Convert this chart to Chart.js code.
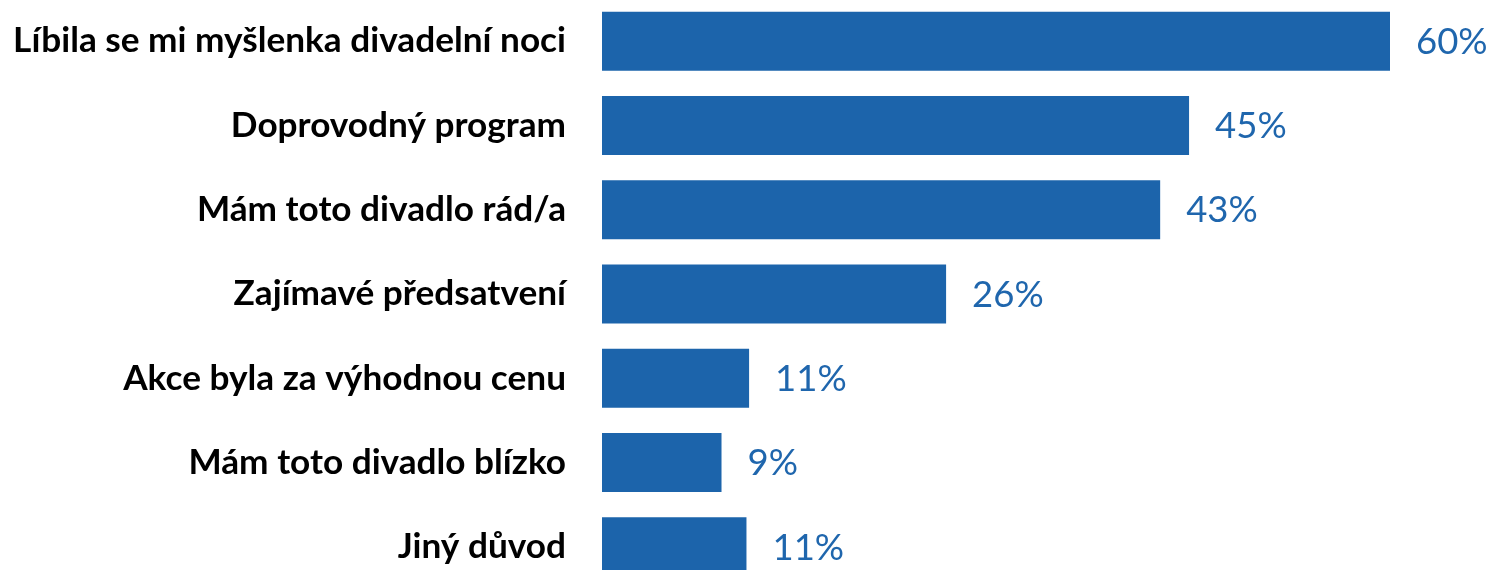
<!DOCTYPE html>
<html>
<head>
<meta charset="utf-8">
<script src="https://cdn.jsdelivr.net/npm/chart.js@4"></script>
<style>
    html, body { margin: 0; padding: 0; background: #fff; overflow: hidden; }
    #wrap { position: absolute; left: 0; top: -1px; width: 1492px; height: 590px; }
</style>
</head>
<body>
<div id="wrap"><canvas id="reasonsChart"></canvas></div>
<script>
// Categories (top to bottom)
const categories = [
    "Líbila se mi myšlenka divadelní noci",
    "Doprovodný program",
    "Mám toto divadlo rád/a",
    "Zajímavé předsatvení",
    "Akce byla za výhodnou cenu",
    "Mám toto divadlo blízko",
    "Jiný důvod"
];

// Share of respondents, % (bar lengths)
const shares = [60, 44.7, 42.5, 26.2, 11.2, 9.1, 11.0];

// Value labels shown next to the bars
const shareLabels = ["60%", "45%", "43%", "26%", "11%", "9%", "11%"];

const barBlue = "#1c64ab";

// Draw the percentage next to each bar
const valueLabels = {
    id: "valueLabels",
    afterDatasetsDraw(chart) {
        const ctx = chart.ctx;
        const meta = chart.getDatasetMeta(0);
        ctx.save();
        ctx.font = "36.5px Lato";
        ctx.fillStyle = "#1f66ad";
        ctx.textAlign = "left";
        ctx.textBaseline = "middle";
        meta.data.forEach((bar, i) => {
            ctx.fillText(shareLabels[i], bar.x + 26, bar.y + 1);
        });
        ctx.restore();
    }
};

new Chart(document.getElementById("reasonsChart"), {
    type: "bar",
    data: {
        labels: categories,
        datasets: [{
            data: shares,
            backgroundColor: barBlue,
            borderWidth: 0,
            barPercentage: 0.7,
            categoryPercentage: 1
        }]
    },
    options: {
        indexAxis: "y",
        responsive: true,
        maintainAspectRatio: false,
        animation: false,
        layout: { padding: { left: 0, right: 102, top: 0, bottom: 0 } },
        plugins: {
            legend: { display: false },
            tooltip: { enabled: false }
        },
        scales: {
            x: {
                display: false,
                min: 0,
                max: 60
            },
            y: {
                grid: { display: false, drawTicks: false },
                border: { display: false },
                ticks: {
                    color: "#000",
                    padding: 36,
                    font: { family: "Lato", size: 35.2, weight: "bold" }
                },
                afterFit(scale) {
                    scale.width = 602;
                    scale.paddingTop = 0;
                    scale.paddingBottom = 0;
                }
            }
        }
    },
    plugins: [valueLabels]
});
</script>
</body>
</html>
